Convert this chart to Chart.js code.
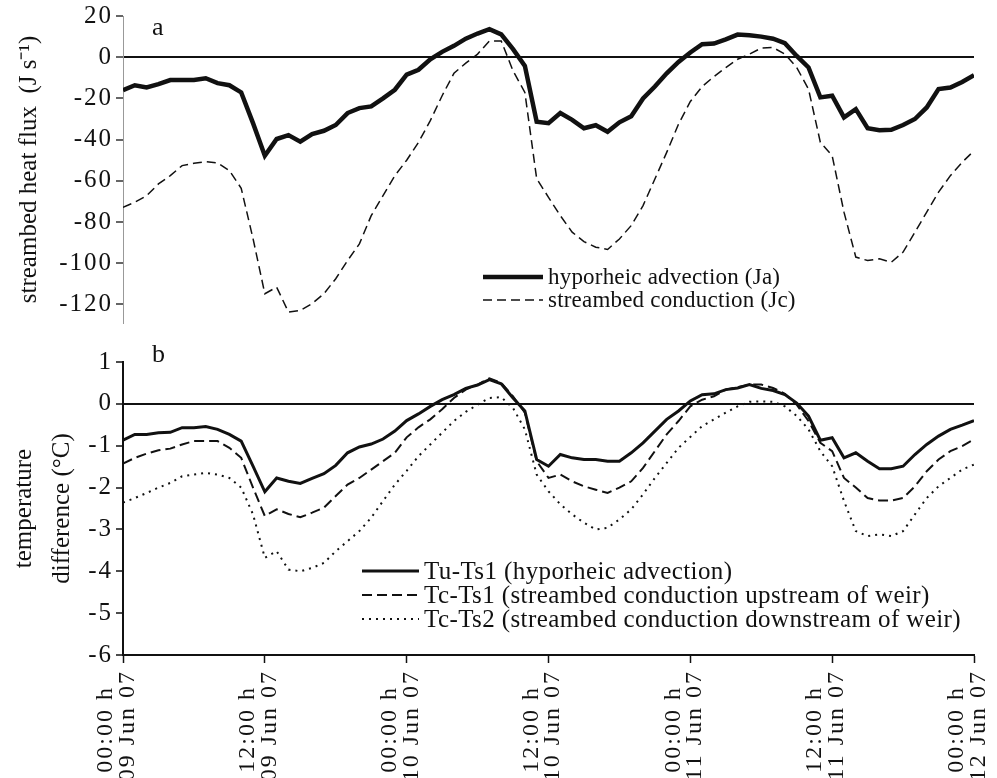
<!DOCTYPE html>
<html>
<head>
<meta charset="utf-8">
<script src="https://cdn.jsdelivr.net/npm/chart.js@4.4.1/dist/chart.umd.min.js"></script>
<style>
  body { margin: 0; background: #fff; }
  .panel { position: absolute; left: 0; }
</style>
</head>
<body>
<div class="panel" style="top:0"><canvas id="chartA" width="997" height="340"></canvas></div>
<div class="panel" style="top:340px"><canvas id="chartB" width="997" height="438"></canvas></div>
<script>
// hours since 00:00 h 09 Jun 07, one reading per hour
const hours = [0, 1, 2, 3, 4, 5, 6, 7, 8, 9, 10, 11, 12, 13, 14, 15, 16, 17, 18, 19, 20, 21, 22, 23,
  24, 25, 26, 27, 28, 29, 30, 31, 32, 33, 34, 35, 36, 37, 38, 39, 40, 41, 42, 43, 44, 45, 46, 47,
  48, 49, 50, 51, 52, 53, 54, 55, 56, 57, 58, 59, 60, 61, 62, 63, 64, 65, 66, 67, 68, 69, 70, 71, 72]

const tickLabels = [
  ['00:00 h  ', '09 Jun 07'], ['12:00 h  ', '09 Jun 07'],
  ['00:00 h  ', '10 Jun 07'], ['12:00 h  ', '10 Jun 07'],
  ['00:00 h  ', '11 Jun 07'], ['12:00 h  ', '11 Jun 07'],
  ['00:00 h  ', '12 Jun 07']
]

// panel a: streambed heat flux (J s-1)
const ja = [-16, -13.6, -14.7, -13.1, -11.1, -11.1, -11.1, -10.2, -12.6, -13.6, -17.1, -32, -47.8, -39.7, -37.8, -41, -37.3, -35.7, -32.9, -27.1, -24.7, -23.9, -20, -15.8,
  -8.5, -6.1, -1, 2.6, 5.5, 9, 11.5, 13.6, 11.1, 3.9, -4.2, -31.3, -32, -27.1, -30.4, -34.5, -33, -36.2, -31.6, -28.7, -20, -14.2, -7.8, -2.3,
  2.3, 6.3, 6.6, 8.7, 11, 10.7, 10, 9, 6.8, 0.6, -5, -19.5, -18.7, -29.2, -25.2, -34.5, -35.4, -35.2, -32.9, -30, -24.4, -15.5, -14.7, -12, -8.7]
const jc = [-72.8, -70.4, -67.2, -61.5, -57.5, -52.6, -51.5, -50.7, -51.3, -55, -63.6, -88, -114.8, -111.6, -123.7, -122.9, -119.6, -114.8, -107.5, -98.7, -90.6, -76.9, -67.2, -57.5,
  -50, -41.3, -30.8, -18.7, -7.8, -2.9, 1.5, 7.9, 7.9, -6.6, -17.1, -59, -68, -76.9, -84.9, -89.5, -92.2, -93.3, -88.2, -81.7, -72, -59.1, -46.2, -32.5,
  -21.5, -14.2, -9.4, -5, -1, 1.5, 4.4, 4.7, 1.5, -5, -15.5, -41.3, -47.8, -75.2, -97, -98.7, -97.8, -99.5, -94.6, -84.9, -75.2, -65.5, -57.5, -51, -45.4]

// panel b: temperature difference (oC)
const tuTs1 = [-0.87, -0.73, -0.73, -0.69, -0.68, -0.57, -0.57, -0.54, -0.61, -0.73, -0.89, -1.49, -2.1, -1.77, -1.85, -1.9, -1.78, -1.67, -1.47, -1.17, -1.03, -0.96, -0.84, -0.65,
  -0.4, -0.24, -0.06, 0.1, 0.22, 0.37, 0.45, 0.58, 0.48, 0.14, -0.17, -1.33, -1.49, -1.21, -1.29, -1.33, -1.33, -1.37, -1.37, -1.17, -0.93, -0.65, -0.37, -0.17,
  0.07, 0.22, 0.24, 0.34, 0.38, 0.46, 0.37, 0.32, 0.22, 0.02, -0.29, -0.87, -0.81, -1.29, -1.17, -1.37, -1.55, -1.55, -1.49, -1.21, -0.97, -0.77, -0.61, -0.51, -0.4]
const tcTs1 = [-1.43, -1.29, -1.19, -1.11, -1.07, -0.97, -0.89, -0.89, -0.89, -1.05, -1.29, -2.0, -2.68, -2.52, -2.63, -2.71, -2.6, -2.48, -2.2, -1.93, -1.77, -1.57, -1.37, -1.17,
  -0.8, -0.56, -0.37, -0.13, 0.14, 0.34, 0.46, 0.61, 0.5, 0.18, -0.21, -1.37, -1.77, -1.69, -1.85, -1.97, -2.05, -2.13, -2.0, -1.85, -1.53, -1.13, -0.73, -0.41,
  -0.06, 0.1, 0.18, 0.34, 0.4, 0.46, 0.46, 0.38, 0.24, -0.02, -0.41, -0.93, -1.13, -1.77, -2.0, -2.25, -2.31, -2.31, -2.25, -1.97, -1.61, -1.33, -1.13, -1.01, -0.85]
const tcTs2 = [-2.36, -2.25, -2.13, -2.0, -1.89, -1.73, -1.69, -1.65, -1.69, -1.77, -2.0, -2.64, -3.68, -3.52, -3.96, -4.0, -3.92, -3.8, -3.52, -3.28, -3.04, -2.72, -2.32, -1.93,
  -1.6, -1.25, -0.97, -0.69, -0.41, -0.19, -0.02, 0.14, 0.16, -0.1, -0.61, -1.69, -2.09, -2.4, -2.64, -2.84, -3.0, -2.96, -2.76, -2.52, -2.16, -1.77, -1.41, -1.05,
  -0.79, -0.53, -0.37, -0.21, -0.06, 0.05, 0.06, 0.05, -0.06, -0.29, -0.61, -1.13, -1.49, -2.32, -3.04, -3.16, -3.12, -3.16, -3.04, -2.64, -2.25, -1.97, -1.77, -1.57, -1.45]

const serif = 'Liberation Serif'

// legend drawn inside the plot, like the original figure
const insideLegend = {
  id: 'insideLegend',
  afterDraw(chart, args, opts) {
    const ctx = chart.ctx
    ctx.save()
    ctx.font = `${opts.size}px "${serif}"`
    ctx.letterSpacing = opts.spacing + 'px'
    ctx.textBaseline = 'middle'
    ctx.fillStyle = '#111'
    chart.data.datasets.forEach((ds, i) => {
      let y = opts.y + i * opts.row
      ctx.strokeStyle = ds.borderColor
      ctx.lineWidth = ds.borderWidth
      ctx.setLineDash(ds.borderDash || [])
      ctx.beginPath()
      ctx.moveTo(opts.x, y)
      ctx.lineTo(opts.x + opts.len, y)
      ctx.stroke()
      ctx.fillText(ds.label, opts.x + opts.len + 5, y + 1)
    })
    ctx.restore()
  }
}

const panelLetter = {
  id: 'panelLetter',
  afterDraw(chart, args, opts) {
    const ctx = chart.ctx
    ctx.save()
    ctx.font = `26px "${serif}"`
    ctx.fillStyle = '#111'
    ctx.fillText(opts.text, opts.x, opts.y)
    ctx.restore()
  }
}

// the printed tick labels are set wider than the font, so space the letters a bit
const wideLabels = {
  id: 'wideLabels',
  beforeDraw(chart, args, opts) {
    Object.values(chart.scales).forEach(s => {
      if (s._wide) return
      const orig = s.drawLabels.bind(s)
      s.drawLabels = ca => {
        s.ctx.save()
        s.ctx.letterSpacing = (opts[s.id] || 0) + 'px'
        orig(ca)
        s.ctx.restore()
      }
      s._wide = true
    })
  }
}

function zeroLine(c) {
  return c.tick.value === 0 ? '#111' : 'rgba(0,0,0,0)'
}

new Chart(document.getElementById('chartA'), {
  type: 'line',
  data: {
    labels: hours,
    datasets: [
      { label: 'hyporheic advection (Ja)', data: ja, borderColor: '#111', borderWidth: 4.5, pointRadius: 0, tension: 0 },
      { label: 'streambed conduction (Jc)', data: jc, borderColor: '#111', borderWidth: 1.5, borderDash: [9, 5], pointRadius: 0, tension: 0 }
    ]
  },
  options: {
    responsive: false,
    devicePixelRatio: 1,
    animation: false,
    layout: { padding: { top: 16, right: 23, bottom: 17, left: 0 } },
    scales: {
      x: { type: 'linear', min: 0, max: 72, display: false },
      y: {
        min: -129, max: 20,
        afterFit(s) { s.width = 123; s.paddingTop = 0; s.paddingBottom = 0 },
        border: { color: '#999', width: 1 },
        grid: { color: zeroLine, lineWidth: 2, tickColor: '#333', tickLength: 7, tickWidth: 1.5 },
        ticks: { stepSize: 20, includeBounds: false, padding: 3, color: '#111', font: { family: serif, size: 25 } },
        title: { display: true, text: 'streambed heat flux  (J s⁻¹)', color: '#111', padding: { top: 14 }, font: { family: serif, size: 25 } }
      }
    },
    plugins: {
      legend: { display: false },
      tooltip: { enabled: false },
      wideLabels: { y: 2 },
      insideLegend: { x: 483, y: 277, row: 23, len: 60, size: 23, spacing: 0.2 },
      panelLetter: { text: 'a', x: 152, y: 35 }
    }
  },
  plugins: [wideLabels, insideLegend, panelLetter]
})

new Chart(document.getElementById('chartB'), {
  type: 'line',
  data: {
    labels: hours,
    datasets: [
      { label: 'Tu-Ts1 (hyporheic advection)', data: tuTs1, borderColor: '#111', borderWidth: 3, pointRadius: 0, tension: 0 },
      { label: 'Tc-Ts1 (streambed conduction upstream of weir)', data: tcTs1, borderColor: '#111', borderWidth: 2, borderDash: [10, 5], pointRadius: 0, tension: 0 },
      { label: 'Tc-Ts2 (streambed conduction downstream of weir)', data: tcTs2, borderColor: '#111', borderWidth: 2, borderDash: [2, 5], pointRadius: 0, tension: 0 }
    ]
  },
  options: {
    responsive: false,
    devicePixelRatio: 1,
    animation: false,
    layout: { padding: { top: 22, right: 23, bottom: 0, left: 0 } },
    scales: {
      x: {
        type: 'linear', min: 0, max: 72,
        afterFit(s) { s.height = 123; s.paddingLeft = 0; s.paddingRight = 0 },
        border: { color: '#111', width: 2 },
        grid: { drawOnChartArea: false, tickColor: '#111', tickLength: 8, tickWidth: 1.5 },
        ticks: {
          stepSize: 12, autoSkip: false, maxRotation: 90, minRotation: 90,
          padding: 7, labelOffset: -17, color: '#111',
          font: { family: serif, size: 24, lineHeight: 0.9 },
          callback: v => tickLabels[v / 12]
        }
      },
      y: {
        min: -6, max: 1,
        afterFit(s) { s.width = 123; s.paddingTop = 0; s.paddingBottom = 0 },
        border: { color: '#111', width: 2 },
        grid: { color: zeroLine, lineWidth: 2, tickColor: '#111', tickLength: 7, tickWidth: 1.5 },
        ticks: { stepSize: 1, padding: 3, color: '#111', font: { family: serif, size: 25 } },
        title: { display: true, text: ['temperature', 'difference (°C)'], color: '#111', padding: { top: 5 }, font: { family: serif, size: 25, lineHeight: 1.52 } }
      }
    },
    plugins: {
      legend: { display: false },
      tooltip: { enabled: false },
      wideLabels: { x: 2, y: 2 },
      insideLegend: { x: 362, y: 231, row: 24, len: 57, size: 25, spacing: 0.4 },
      panelLetter: { text: 'b', x: 152, y: 22 }
    }
  },
  plugins: [wideLabels, insideLegend, panelLetter]
})
</script>
</body>
</html>
